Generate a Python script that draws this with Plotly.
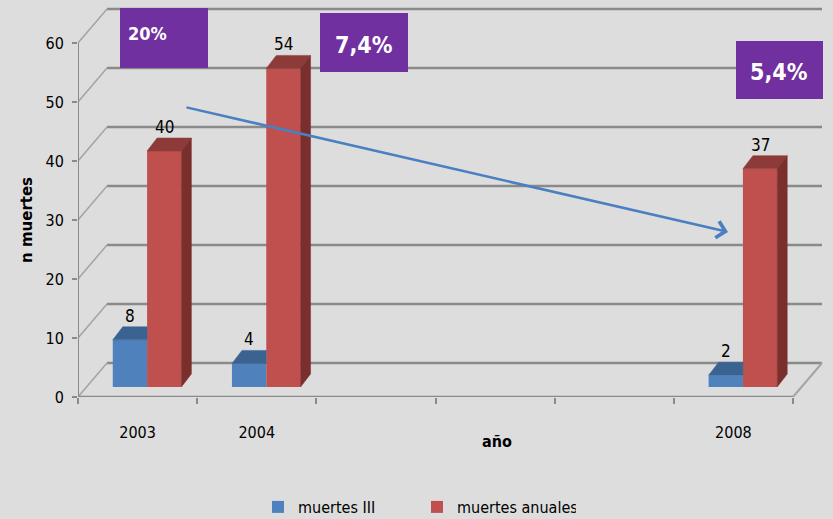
import plotly.graph_objects as go

# ---- data ----
anios = [2003, 2004, 2008]
muertes_iii = [8, 4, 2]
muertes_anuales = [40, 54, 37]
porcentajes = ["20%", "7,4%", "5,4%"]
y_ticks = [0, 10, 20, 30, 40, 50, 60]
anio_labels = ["2003", "2004", "2008"]
limites_categoria = [2002.5, 2003.5, 2004.5, 2005.5, 2006.5, 2007.5, 2008.5]

# ---- layout geometry (pixels) ----
L, R, T, B = 78, 826, 5, 397
PPX = (793 - 78) / 6.0
PPY = 5.9
X0 = 2002.5


def X(px):
    return X0 + (px - L) / PPX


def Y(py):
    return (B - py) / PPY


def PX(px):
    return (px - L) / (R - L)


def PY(py):
    return (B - py) / (B - T)


BG = "#dddddd"
BLUE, BLUE_TOP = "#4f81bd", "#3b6391"
RED, RED_TOP, RED_SIDE = "#c0504d", "#8d3b38", "#7a2f2d"
GRID = "#8a8a8a"
WALL = "#a4a4a4"
PURPLE = "#7030a0"
NARROW = "DejaVu Sans Condensed, Liberation Sans Narrow, sans-serif"

W = 34.3 / PPX          # bar width
SHIFT = 9.5 / PPX       # bar plane x shift
BASE = 10 / PPY         # bar plane y shift
DDX, DDY = 10 / PPX, 13 / PPY   # bar depth
WDX, WDY = 29 / PPX, 34 / PPY   # wall depth

fig = go.Figure()

fig.add_trace(go.Bar(x=anios, y=muertes_iii, base=[BASE] * len(anios), width=W,
                     offset=SHIFT - W, marker=dict(color=BLUE, line=dict(width=0)),
                     name="muertes III"))
fig.add_trace(go.Bar(x=anios, y=muertes_anuales, base=[BASE] * len(anios), width=W,
                     offset=SHIFT, marker=dict(color=RED, line=dict(width=0)),
                     name="muertes anuales"))

for i, a in enumerate(anios):
    x0 = a + SHIFT - W
    x1 = a + SHIFT
    x2 = a + SHIFT + W
    tb = BASE + muertes_iii[i]
    tr = BASE + muertes_anuales[i]
    fig.add_trace(go.Scatter(x=[x0, x1, x1, x0 + DDX, x0], y=[tb, tb, tb + DDY, tb + DDY, tb],
                             fill="toself", fillcolor=BLUE_TOP, mode="lines",
                             line=dict(color=BLUE_TOP, width=0.5), showlegend=False, hoverinfo="skip"))
    fig.add_trace(go.Scatter(x=[x1, x2, x2 + DDX, x1 + DDX, x1], y=[tr, tr, tr + DDY, tr + DDY, tr],
                             fill="toself", fillcolor=RED_TOP, mode="lines",
                             line=dict(color=RED_TOP, width=0.5), showlegend=False, hoverinfo="skip"))
    fig.add_trace(go.Scatter(x=[x2, x2 + DDX, x2 + DDX, x2, x2], y=[tr, tr + DDY, BASE + DDY, BASE, tr],
                             fill="toself", fillcolor=RED_SIDE, mode="lines",
                             line=dict(color=RED_SIDE, width=0.5), showlegend=False, hoverinfo="skip"))

shapes = []
xl, xr = limites_categoria[0], limites_categoria[-1]
for v in y_ticks:
    shapes.append(dict(type="line", layer="below", x0=xl + WDX, x1=xr + WDX, y0=v + WDY, y1=v + WDY,
                       line=dict(color=GRID, width=2.5)))
    shapes.append(dict(type="line", layer="below", x0=xl, x1=xl + WDX, y0=v, y1=v + WDY,
                       line=dict(color=WALL, width=1.5)))
# y axis line
shapes.append(dict(type="line", layer="below", x0=xl, x1=xl, y0=0, y1=y_ticks[-1],
                   line=dict(color=GRID, width=2)))
# floor front and right edge
shapes.append(dict(type="line", layer="below", x0=xl, x1=xr, y0=0, y1=0,
                   line=dict(color=GRID, width=2.5)))
shapes.append(dict(type="line", layer="below", x0=xr, x1=xr + WDX, y0=0, y1=WDY,
                   line=dict(color=WALL, width=2)))

# purple boxes
boxes = [(120, 8, 208, 68), (320, 13, 408, 72), (736, 41, 823, 99)]
for (a, b, c, d) in boxes:
    shapes.append(dict(type="rect", layer="above", x0=X(a), x1=X(c), y0=Y(d), y1=Y(b),
                       fillcolor=PURPLE, line=dict(width=0)))

annotations = []
# value labels
for i, a in enumerate(anios):
    annotations.append(dict(x=a + SHIFT - W / 2, y=BASE + muertes_iii[i], text=str(muertes_iii[i]),
                            showarrow=False, yshift=24, font=dict(family=NARROW, size=17, color="black")))
    annotations.append(dict(x=a + SHIFT + W / 2, y=BASE + muertes_anuales[i], text=str(muertes_anuales[i]),
                            showarrow=False, yshift=24, font=dict(family=NARROW, size=17, color="black")))

# percentage texts
pct_pos = [(147, 33, 18), (364, 45, 23), (779, 72, 23)]
for txt, (px, py, fs) in zip(porcentajes, pct_pos):
    annotations.append(dict(x=X(px), y=Y(py), text="<b>" + txt + "</b>", showarrow=False,
                            xanchor="center", yanchor="middle",
                            font=dict(family=NARROW, size=fs, color="white")))

# arrow
annotations.append(dict(x=X(728), y=Y(232), ax=X(185), ay=Y(107), axref="x", ayref="y",
                        text="", showarrow=True, arrowhead=4, arrowsize=1.3, arrowwidth=2.5,
                        arrowcolor="#4a7fc1", standoff=0))

# axis titles
annotations.append(dict(xref="paper", yref="paper", x=PX(27), y=PY(220), text="<b>n muertes</b>",
                        textangle=-90, showarrow=False, xanchor="center", yanchor="middle",
                        font=dict(family="DejaVu Sans", size=15, color="black")))
annotations.append(dict(xref="paper", yref="paper", x=PX(497), y=PY(441), text="<b>año</b>",
                        showarrow=False, xanchor="center", yanchor="middle",
                        font=dict(family=NARROW, size=16, color="black")))

fig.update_layout(
    width=833, height=519,
    margin=dict(l=L, r=833 - R, t=T, b=519 - B, autoexpand=False),
    paper_bgcolor=BG, plot_bgcolor=BG,
    barmode="overlay",
    shapes=shapes, annotations=annotations,
    showlegend=True,
    legend=dict(orientation="h", x=PX(258), y=PY(507),
                xanchor="left", yanchor="middle", bgcolor="rgba(0,0,0,0)",
                font=dict(family=NARROW, size=16, color="black"),
                entrywidth=114, entrywidthmode="pixels", traceorder="normal"),
    xaxis=dict(range=[X0, X(R)], tickvals=anios, ticktext=anio_labels, ticks="outside",
               ticklen=21, tickcolor="rgba(0,0,0,0)", showgrid=False, zeroline=False, showline=False,
               tickfont=dict(family=NARROW, size=16, color="black"),
               minor=dict(tickvals=limites_categoria, ticks="outside", ticklen=6, tickwidth=2,
                          tickcolor=GRID, showgrid=False)),
    yaxis=dict(range=[0, (B - T) / PPY], tickvals=y_ticks, ticks="outside", ticklen=5, tickwidth=2,
               tickcolor=GRID, showgrid=False, zeroline=False, showline=False,
               tickfont=dict(family=NARROW, size=16, color="black"), ticklabelstandoff=5),
)

fig.write_html("out.html")
